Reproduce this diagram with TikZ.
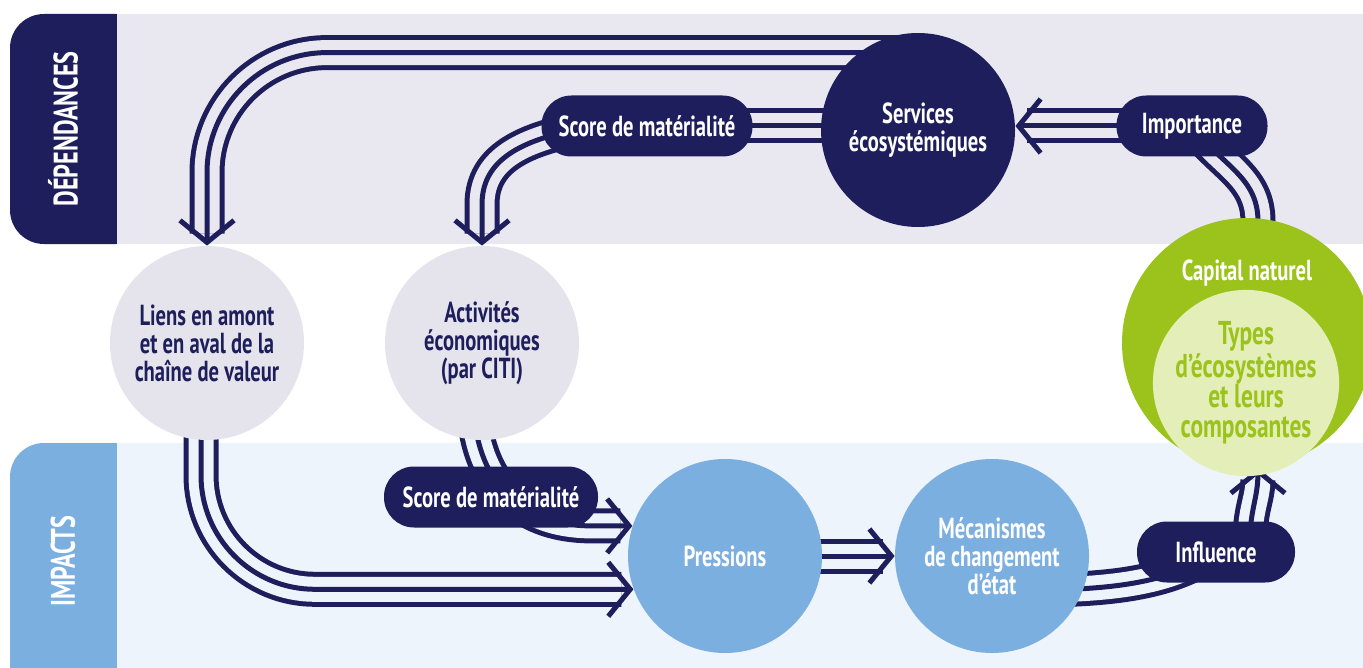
\documentclass[tikz,border=0pt]{standalone}
\usepackage{fontspec}
\setmainfont{PT Sans}[FakeStretch=0.71]
\usetikzlibrary{arrows.meta,calc}

\definecolor{navy}{HTML}{1D1E5B}
\definecolor{topband}{HTML}{E9E8F0}
\definecolor{lowband}{HTML}{EEF4FB}
\definecolor{greyc}{HTML}{E5E4EC}
\definecolor{bluec}{HTML}{7BAFE0}
\definecolor{greenc}{HTML}{9BC31C}
\definecolor{paleg}{HTML}{E3EEB8}

\pgfdeclarelayer{bands}
\pgfdeclarelayer{flows}
\pgfsetlayers{bands,flows,main}

\tikzset{
  ball/.style={circle, inner sep=0pt, minimum size=97pt, align=center},
  navyball/.style={ball, fill=navy, text=white},
  greyball/.style={ball, fill=greyc, text=navy},
  blueball/.style={ball, fill=bluec, text=white},
  pill/.style={fill=navy, text=white, rounded corners=15pt, minimum height=30.5pt, inner xsep=8pt},
  tab/.style={rotate=90, text=white, font=\bfseries\fontsize{17}{17}\selectfont},
  triple/.style={draw=navy, line width=2.5pt, double=#1, double distance=12.5pt},
  core/.style={draw=navy, line width=2.5pt},
  chev/.style={-{Straight Barb[length=11pt,width=27pt]}},
}

\begin{document}
\begin{tikzpicture}[x=0.5pt, y=-0.5pt, font=\bfseries\fontsize{14.5}{14}\selectfont]
\useasboundingbox (0,0) rectangle (1363,668);

% bands
\begin{pgfonlayer}{bands}
  \fill[white] (0,0) rectangle (1363,668);
  \fill[navy, rounded corners=17pt] (10,14) rectangle (150,244);
  \fill[bluec, rounded corners=17pt] (10,443) rectangle (150,700);
  \fill[topband] (117,14) rectangle (1363,244);
  \fill[lowband] (117,443) rectangle (1363,668);
\end{pgfonlayer}

\node[tab] (dep) at (63,129) {DÉPENDANCES};
\node[tab] (imps) at (63,561) {IMPACTS};

% circles
\node[navyball] (svc) at (918,130) {Services\\écosystémiques};
\node[greyball] (lia) at (207,343) {Liens en amont\\et en aval de la\\chaîne de valeur};
\node[greyball] (act) at (482,343) {Activités\\économiques\\(par CITI)};
\node[blueball] (prs) at (725,556) {Pressions};
\node[blueball] (mec) at (992,556) {Mécanismes\\de changement\\d'état};
\node[ball, fill=greenc, minimum size=125pt] (cap) at (1247,343) {};
\node[text=white] (capt) at ($(cap.north)+(0,55)$) {Capital naturel};
\node[ball, fill=paleg, text=greenc, minimum size=77.5pt,
      font=\bfseries\fontsize{16.5}{15}\selectfont] (typ) at (1246,383) {Types\\d'écosystèmes\\et leurs\\composantes};

% pills
\node[pill, minimum width=105.5pt] (ssm) at (647,126) {Score de matérialité};
\node[pill, minimum width=75.5pt] (imp) at (1192,126) {Importance};
\node[pill, minimum width=107pt] (ssi) at (491,497) {Score de matérialité};
\node[pill, minimum width=79pt] (inf) at (1216,552) {Influence};

\begin{pgfonlayer}{flows}
  % dependances
  \draw[triple=topband, rounded corners=60pt, shorten >=6pt] ($(svc.north)+(0,20)$) -| (lia.north);
  \draw[core, chev, rounded corners=60pt] ($(svc.north)+(0,20)$) -| (lia.north);
  \draw[triple=topband] (ssm.center) -- (ssm.center -| svc.center);
  \draw[core] (ssm.center) -- (ssm.center -| svc.center);
  \draw[triple=topband, shorten >=6pt] ($(ssm.west)+(24,6)$) .. controls +(-60,14) and +(0,-35) .. ($(act.north)+(0,-41)$) -- (act.north);
  \draw[core, chev] ($(ssm.west)+(24,6)$) .. controls +(-60,14) and +(0,-35) .. ($(act.north)+(0,-41)$) -- (act.north);
  \draw[triple=topband, shorten >=6pt] (imp.center) -- (imp.center -| svc.east);
  \draw[core, chev] (imp.center) -- (imp.center -| svc.east);
  \draw[triple=topband] ($(cap.north)+(11,4)$) .. controls +(0,-45) and +(30,40) .. (imp.center);
  \draw[core] ($(cap.north)+(11,4)$) .. controls +(0,-45) and +(30,40) .. (imp.center);
  % impacts
  \draw[triple=lowband, shorten >=6pt] ($(act.south)+(-6,-10)$) .. controls +(8,45) and +(-80,0) .. ($(prs.162)+(-40,0)$) -- (prs.162);
  \draw[core, chev] ($(act.south)+(-6,-10)$) .. controls +(8,45) and +(-80,0) .. ($(prs.162)+(-40,0)$) -- (prs.162);
  \draw[triple=lowband, rounded corners=57pt, shorten >=6pt] ($(lia.center)+(-6,0)$) |- (prs.200);
  \draw[core, chev, rounded corners=57pt] ($(lia.center)+(-6,0)$) |- (prs.200);
  \draw[triple=lowband, shorten >=6pt] (prs.center) -- (mec.west);
  \draw[core, chev] (prs.center) -- (mec.west);
  \draw[triple=lowband] ($(mec.center)+(40,34)$) .. controls +(98,0) and +(-40,26) .. (inf.center);
  \draw[core] ($(mec.center)+(40,34)$) .. controls +(98,0) and +(-40,26) .. (inf.center);
  \draw[triple=lowband, shorten >=6pt] ($(inf.center)+(34,-12)$) .. controls +(0,-30) and +(0,30) .. (cap.-85);
  \draw[core, chev] ($(inf.center)+(34,-12)$) .. controls +(0,-30) and +(0,30) .. (cap.-85);
\end{pgfonlayer}
\end{tikzpicture}
\end{document}
